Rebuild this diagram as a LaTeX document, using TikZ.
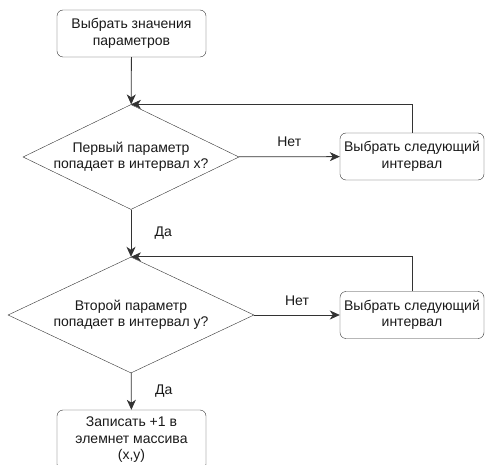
\documentclass[tikz,border=0pt]{standalone}
\usepackage{fontspec}
\setmainfont{Liberation Sans}
\usetikzlibrary{shapes.geometric,arrows.meta}
\definecolor{linegray}{HTML}{333333}
\tikzstyle{every node}=[font=\fontsize{14}{16.5}\selectfont,text=black!90,align=center]
\tikzstyle{box}=[draw=linegray,rounded corners=6pt,minimum width=149pt,minimum height=47pt,inner sep=1pt]
\tikzstyle{test}=[draw=linegray,shape=diamond,inner sep=0pt]
\tikzstyle{line}=[draw=linegray,thick,-{Stealth[length=10pt,width=9pt,inset=3pt]}]

\begin{document}
\begin{tikzpicture}[x=1pt, y=-1pt]
	\clip (0,0) rectangle (485,465);
	\node (n1) [box] at (131.5,33.5) {Выбрать значения\\параметров};
	\node (n2) [test,aspect=2.06,minimum width=216pt,minimum height=105pt,
		label={[name=q1]center:Первый параметр\\попадает в интервал x?}] at (131,157) {};
	\node (n3) [box,minimum width=144pt] at (412,156.5) {Выбрать следующий\\интервал};
	\node (n4) [test,aspect=2.12,minimum width=246pt,minimum height=116pt,
		label={[name=q2]center:Второй параметр\\попадает в интервал y?}] at (131,315) {};
	\node (n5) [box,minimum width=144pt] at (412,315) {Выбрать следующий\\интервал};
	\node (n6) [box,minimum height=60pt] at (131.5,440) {Записать +1 в\\элемнет массива\\(x,y)};
	\draw [line] (n1) -- (n2);
	\draw [line] (n2) -- node (t1) [above=6pt] {Нет} (n3);
	\draw [line] (n3.north) |- (n2.north);
	\draw [line] (n2) -- node (t2) [right=20pt] {Да} (n4);
	\draw [line] (n4) -- node (t3) [above=6pt] {Нет} (n5);
	\draw [line] (n5.north) |- (n4.north);
	\draw [line] (n4) -- node (t4) [right=20pt] {Да} (n6);
\end{tikzpicture}
\end{document}
